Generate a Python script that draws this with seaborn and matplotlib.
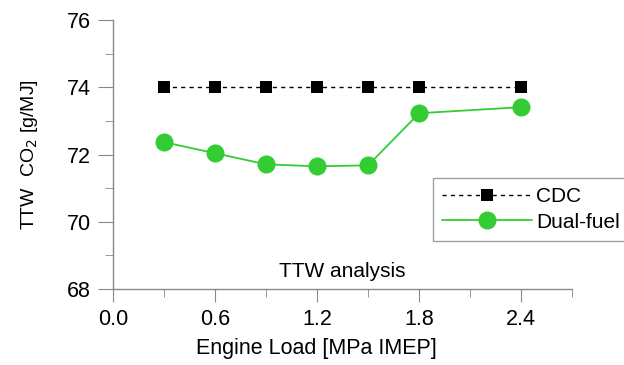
import pandas as pd
import matplotlib.pyplot as plt
import seaborn as sns
from matplotlib.ticker import MultipleLocator

# Engine load points and TTW CO2 values
load = [0.3, 0.6, 0.9, 1.2, 1.5, 1.8, 2.4]
cdc = [74.0, 74.0, 74.0, 74.0, 74.0, 74.0, 74.0]
dual_fuel = [72.37, 72.04, 71.71, 71.65, 71.68, 73.23, 73.41]

df = pd.DataFrame({
    "load": load * 2,
    "co2": cdc + dual_fuel,
    "mode": ["CDC"] * len(load) + ["Dual-fuel"] * len(load),
})

sns.set_style("ticks")
plt.rcParams["font.family"] = ["Liberation Sans", "DejaVu Sans"]
plt.rcParams["text.color"] = "black"
plt.rcParams["axes.labelcolor"] = "black"
plt.rcParams["xtick.labelcolor"] = "black"
plt.rcParams["ytick.labelcolor"] = "black"

fig = plt.figure(figsize=(6.24, 3.65), dpi=100)
ax = fig.add_axes([0.181, 0.208, 0.736, 0.737])

sns.lineplot(data=df[df["mode"] == "CDC"], x="load", y="co2", ax=ax,
             color="black", linestyle=(0, (3, 3)), linewidth=1,
             marker="s", markersize=9, markeredgewidth=0, label="CDC")
sns.lineplot(data=df[df["mode"] == "Dual-fuel"], x="load", y="co2", ax=ax,
             color="#33cc33", linewidth=1.3,
             marker="o", markersize=13, markeredgewidth=0, label="Dual-fuel")

ax.set_xlim(0, 2.7)
ax.set_ylim(68, 76)
ax.xaxis.set_major_locator(MultipleLocator(0.6))
ax.xaxis.set_minor_locator(MultipleLocator(0.3))
ax.yaxis.set_major_locator(MultipleLocator(2))
ax.yaxis.set_minor_locator(MultipleLocator(1))
ax.xaxis.set_major_formatter(plt.FuncFormatter(lambda v, p: f"{v:.1f}"))

sns.despine(ax=ax)
for s in ["left", "bottom"]:
    ax.spines[s].set_color("#888888")
    ax.spines[s].set_linewidth(1)
ax.tick_params(which="both", color="#888888", labelcolor="black",
               labelsize=15.5, direction="out")
ax.tick_params(axis="y", which="major", length=11, pad=5)
ax.tick_params(axis="y", which="minor", length=5.5)
ax.tick_params(axis="x", which="major", length=9.5, pad=5)
ax.tick_params(axis="x", which="minor", length=6)

ax.set_xlabel("Engine Load [MPa IMEP]", fontsize=15.5)
ax.set_ylabel("TTW  CO$_2$ [g/MJ]", fontsize=14)
ax.xaxis.set_label_coords(0.444, -0.182)
ax.yaxis.set_label_coords(-0.159, 0.5)

ax.text(1.35, 68.36, "TTW analysis", fontsize=15, ha="center", va="baseline")

leg = ax.legend(loc="upper left", bbox_to_anchor=(0.697, 0.413), fontsize=15,
                frameon=True, fancybox=False, handlelength=4.3,
                borderaxespad=0, borderpad=0.45, labelspacing=0.3,
                handletextpad=0.2)
leg.get_frame().set_edgecolor("#888888")
leg.get_frame().set_linewidth(1)

plt.savefig("out.png", dpi=100)
